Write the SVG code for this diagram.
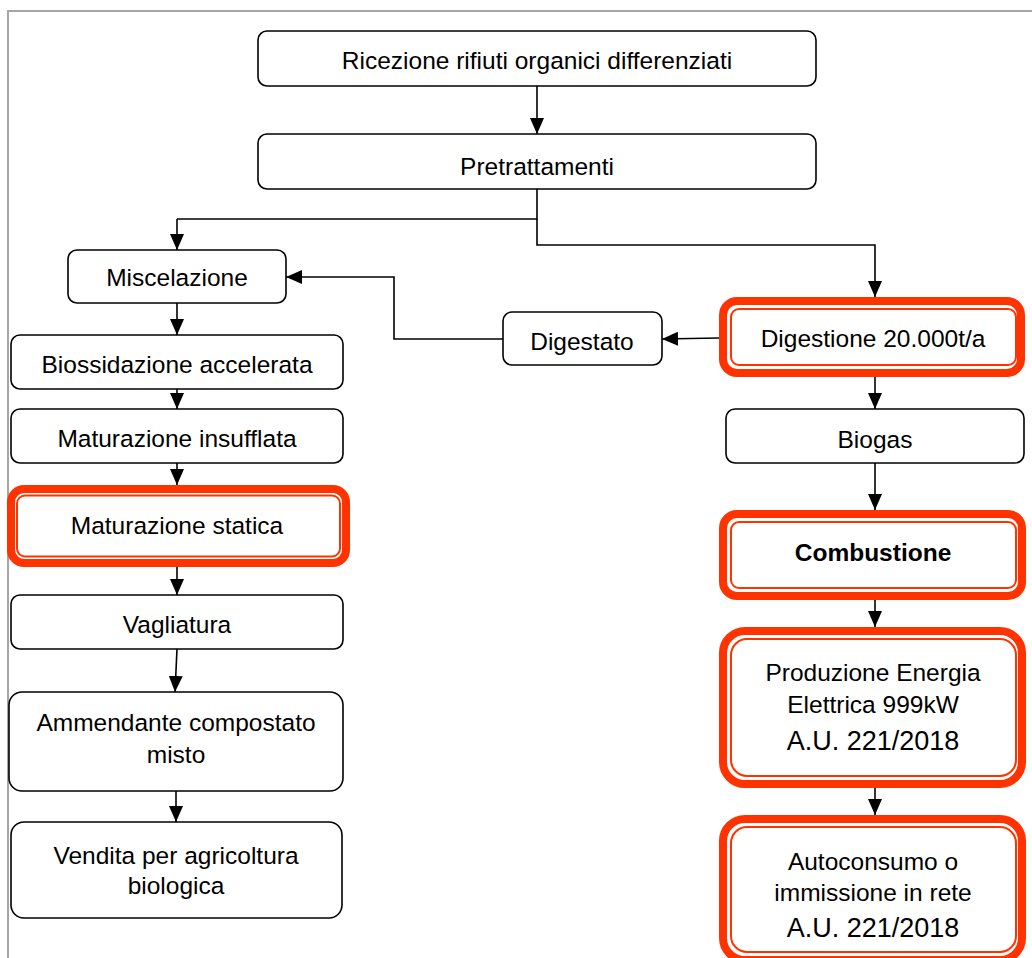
<svg xmlns="http://www.w3.org/2000/svg" width="1032" height="958" viewBox="0 0 1032 958">
<defs>
<marker id="ah" viewBox="0 0 16 14" refX="16" refY="7" markerWidth="16" markerHeight="14" markerUnits="userSpaceOnUse" orient="auto">
<path d="M0,0 L16,7 L0,14 Z" fill="#000"/>
</marker>
<style>
.box{fill:#fff;stroke:#000;stroke-width:1.6}
.rk{fill:#fff;stroke:#ff3300;stroke-width:8}
.rt{fill:none;stroke:#ff3300;stroke-width:2}
.t{font-family:"Liberation Sans",Arial,sans-serif;font-size:24.5px;fill:#000;text-anchor:middle}
.tb{font-weight:bold}
.tl{font-size:27px}
.c{fill:none;stroke:#000;stroke-width:1.6}
.ca{fill:none;stroke:#000;stroke-width:1.6;marker-end:url(#ah)}
</style>
</defs>
<rect x="0" y="0" width="1032" height="958" fill="#fff"/>
<rect x="8" y="11" width="1040" height="970" fill="none" stroke="#a6a6a6" stroke-width="2"/>

<g id="connectors">
<path class="ca" d="M537,86 V134"/>
<path class="c" d="M537,189 V219 H177"/>
<path class="ca" d="M177,219 V250"/>
<path class="ca" d="M537,219 V245 H875 V297"/>
<path class="ca" d="M177,303 V335"/>
<path class="ca" d="M177,389 V409"/>
<path class="ca" d="M177,463 V485"/>
<path class="ca" d="M177,567 V595"/>
<path class="ca" d="M177,649 L175,692"/>
<path class="ca" d="M176,791 V822"/>
<path class="ca" d="M719,338 L662,339"/>
<path class="ca" d="M503,339 H394 V277 H286"/>
<path class="ca" d="M875,377 V409"/>
<path class="ca" d="M875,463 V510"/>
<path class="ca" d="M875,600 V627"/>
<path class="ca" d="M875,788 V815"/>
</g>

<g id="ricezione">
<rect class="box" x="258" y="31" width="558" height="55" rx="9"/>
<text class="t" x="537" y="69">Ricezione rifiuti organici differenziati</text>
</g>
<g id="pretrattamenti">
<rect class="box" x="258" y="134" width="558" height="55" rx="9"/>
<text class="t" x="537" y="175">Pretrattamenti</text>
</g>
<g id="miscelazione">
<rect class="box" x="68" y="250" width="218" height="53" rx="9"/>
<text class="t" x="177" y="286">Miscelazione</text>
</g>
<g id="digestato">
<rect class="box" x="503" y="312" width="159" height="53" rx="9"/>
<text class="t" x="582" y="350">Digestato</text>
</g>
<g id="biossidazione">
<rect class="box" x="11" y="335" width="332" height="54" rx="9"/>
<text class="t" x="177" y="373">Biossidazione accelerata</text>
</g>
<g id="maturazione-insufflata">
<rect class="box" x="11" y="409" width="332" height="54" rx="9"/>
<text class="t" x="177" y="447">Maturazione insufflata</text>
</g>
<g id="maturazione-statica">
<rect class="rk" x="11" y="489" width="335" height="74" rx="13"/>
<rect class="rt" x="17" y="495.5" width="323" height="61" rx="8"/>
<text class="t" x="177" y="534">Maturazione statica</text>
</g>
<g id="vagliatura">
<rect class="box" x="11" y="595" width="332" height="54" rx="9"/>
<text class="t" x="177" y="633">Vagliatura</text>
</g>
<g id="ammendante">
<rect class="box" x="9" y="692" width="334" height="99" rx="13"/>
<text class="t" x="176" y="731">Ammendante compostato</text>
<text class="t" x="176" y="763">misto</text>
</g>
<g id="vendita">
<rect class="box" x="11" y="822" width="331" height="96" rx="13"/>
<text class="t" x="176" y="864">Vendita per agricoltura</text>
<text class="t" x="176" y="894">biologica</text>
</g>
<g id="digestione">
<rect class="rk" x="723" y="301" width="298" height="72" rx="14"/>
<rect class="rt" x="731" y="309" width="285" height="56" rx="8"/>
<text class="t" x="873" y="347">Digestione 20.000t/a</text>
</g>
<g id="biogas">
<rect class="box" x="726" y="409" width="298" height="54" rx="9"/>
<text class="t" x="875" y="448">Biogas</text>
</g>
<g id="combustione">
<rect class="rk" x="723" y="514" width="299" height="82" rx="14"/>
<rect class="rt" x="731" y="522" width="285" height="66" rx="8"/>
<text class="t tb" x="873" y="561">Combustione</text>
</g>
<g id="produzione">
<rect class="rk" x="723" y="631" width="299" height="153" rx="22"/>
<rect class="rt" x="731" y="639" width="285" height="137" rx="16"/>
<text class="t" x="873" y="681">Produzione Energia</text>
<text class="t" x="873" y="713">Elettrica 999kW</text>
<text class="t tl" x="873" y="750">A.U. 221/2018</text>
</g>
<g id="autoconsumo">
<rect class="rk" x="723" y="819" width="299" height="141" rx="22"/>
<rect class="rt" x="731" y="827" width="285" height="125" rx="16"/>
<text class="t" x="873" y="870">Autoconsumo o</text>
<text class="t" x="873" y="901">immissione in rete</text>
<text class="t tl" x="873" y="937">A.U. 221/2018</text>
</g>
</svg>
